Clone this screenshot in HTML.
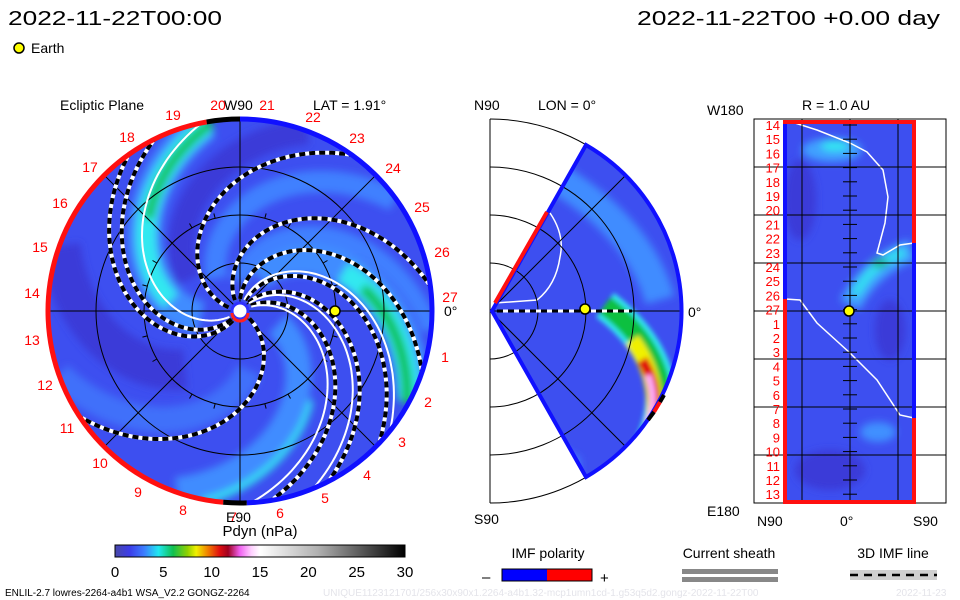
<!DOCTYPE html>
<html><head><meta charset="utf-8"><style>
html,body{margin:0;padding:0;background:#fff;}
svg{display:block;font-family:"Liberation Sans",sans-serif;}
</style></head><body>
<svg id="s" width="960" height="600" viewBox="0 0 960 600" xmlns="http://www.w3.org/2000/svg">
<defs>
<filter id="bl" x="-20%" y="-20%" width="140%" height="140%"><feGaussianBlur stdDeviation="4"/></filter>
<filter id="bl2" x="-20%" y="-20%" width="140%" height="140%"><feGaussianBlur stdDeviation="2.5"/></filter>
<clipPath id="diskClip"><circle cx="240" cy="311" r="192"/></clipPath>
<clipPath id="wedgeClip"><path d="M492,311 L586,145 A192,192 0 0 1 586,477 Z"/></clipPath>
<clipPath id="rectClip"><rect x="785" y="122" width="129" height="380"/></clipPath>
<linearGradient id="cmap" x1="0" x2="1" y1="0" y2="0">
<stop offset="0" stop-color="#4848a8"/><stop offset="0.05" stop-color="#3c3ce8"/><stop offset="0.1" stop-color="#3c7cff"/>
<stop offset="0.15" stop-color="#20e8f0"/><stop offset="0.2" stop-color="#10c050"/><stop offset="0.25" stop-color="#90d000"/>
<stop offset="0.28" stop-color="#f0f000"/><stop offset="0.32" stop-color="#f08000"/><stop offset="0.36" stop-color="#e01010"/>
<stop offset="0.39" stop-color="#a00020"/><stop offset="0.43" stop-color="#f060f0"/><stop offset="0.47" stop-color="#ffd0ff"/>
<stop offset="0.5" stop-color="#ffffff"/><stop offset="0.7" stop-color="#b0b0b0"/><stop offset="1" stop-color="#000000"/>
</linearGradient>
</defs>

<text x="8" y="25" font-size="20" textLength="214" lengthAdjust="spacingAndGlyphs">2022-11-22T00:00</text>
<text x="637" y="25" font-size="20" textLength="303" lengthAdjust="spacingAndGlyphs">2022-11-22T00 +0.00 day</text>
<circle cx="19" cy="48" r="5" fill="#ffff00" stroke="#000" stroke-width="1.5"/>
<text x="31" y="53" font-size="14">Earth</text>

<g>
<text x="60" y="110" font-size="14">Ecliptic Plane</text>
<text x="224" y="110" font-size="14">W90</text>
<text x="313" y="110" font-size="14">LAT = 1.91°</text>
<g clip-path="url(#diskClip)" id="diskField">
<circle cx="240" cy="311" r="192" fill="#3d4ff0"/>
<g id="bands"></g>
</g>
<g id="diskGrid"></g>
<g id="spirals"></g>
<g id="rim"></g>
<circle cx="240" cy="311" r="8" fill="#fff" stroke="#3030ff" stroke-width="3"/>
<path d="M232,313 A8,8 0 0 0 248,313" fill="none" stroke="#ff2020" stroke-width="3"/>
<circle cx="335" cy="311" r="5" fill="#ffff00" stroke="#000" stroke-width="1.5"/>
<g id="lonLabels"></g>
<text x="226" y="522" font-size="14">E90</text>
<text x="444" y="316" font-size="14">0°</text>
</g>

<g>
<text x="474" y="110" font-size="14">N90</text>
<text x="538" y="110" font-size="14">LON = 0°</text>
<g clip-path="url(#wedgeClip)">
<rect x="480" y="110" width="220" height="400" fill="#3d4ff0"/>
<g id="wedgeBands"></g>
</g>
<g id="midGrid"></g>
<text x="688" y="317" font-size="14">0°</text>
<text x="474" y="524" font-size="14">S90</text>
</g>

<g>
<text x="707" y="115" font-size="14">W180</text>
<text x="802" y="110" font-size="14">R = 1.0 AU</text>
<g clip-path="url(#rectClip)">
<rect x="785" y="122" width="129" height="380" fill="#3d4ff0"/>
<g filter="url(#bl)">
<ellipse cx="832" cy="150" rx="30" ry="12" fill="#3fa0ff"/>
<ellipse cx="835" cy="146" rx="14" ry="5" fill="#30e8f0"/>
<path d="M850,305 Q870,265 912,250" stroke="#3fa0ff" stroke-width="22" fill="none"/>
<path d="M855,295 Q872,262 905,252" stroke="#30e0f0" stroke-width="9" fill="none"/>
<ellipse cx="880" cy="263" rx="8" ry="4" fill="#10b060"/>
<ellipse cx="878" cy="432" rx="18" ry="10" fill="#3f90ff"/>
<ellipse cx="800" cy="200" rx="16" ry="40" fill="#3a3ad8"/>
<ellipse cx="830" cy="470" rx="35" ry="20" fill="#3a3ad8"/>
<ellipse cx="890" cy="330" rx="15" ry="30" fill="#3a3ad8"/>
</g>
<path d="M795,123 L817,130 L850,143 L867,152 L883,170 L888,197 L885,223 L877,253 L883,255 L900,245 L914,243" stroke="#fff" stroke-width="1.5" fill="none"/>
<path d="M785,299 L800,300 L817,323 L850,353 L877,380 L900,415 L914,418" stroke="#fff" stroke-width="1.5" fill="none"/>
</g>
<g id="rightGrid"></g>
<circle cx="849" cy="311" r="5" fill="#ffff00" stroke="#000" stroke-width="1.5"/>
<g id="rightLabels"></g>
<text x="707" y="516" font-size="14">E180</text>
<text x="757" y="526" font-size="14">N90</text>
<text x="840" y="526" font-size="14">0°</text>
<text x="913" y="526" font-size="14">S90</text>
</g>

<g>
<text x="260" y="536" font-size="15" text-anchor="middle">Pdyn (nPa)</text>
<rect x="115" y="545" width="290" height="12" fill="url(#cmap)" stroke="#000" stroke-width="1"/>
<g id="cbTicks"></g>
</g>

<g>
<text x="548" y="558" font-size="14" text-anchor="middle">IMF polarity</text>
<text x="482" y="582" font-size="15">–</text>
<rect x="502" y="569" width="45" height="12" fill="#0000ff"/>
<rect x="547" y="569" width="45" height="12" fill="#ff0000"/>
<rect x="502" y="569" width="90" height="12" fill="none" stroke="#000" stroke-width="1"/>
<text x="600" y="583" font-size="15">+</text>
</g>
<g>
<text x="729" y="558" font-size="14" text-anchor="middle">Current sheath</text>
<rect x="682" y="569" width="96" height="5" fill="#888"/>
<rect x="682" y="577" width="96" height="5" fill="#888"/>
</g>
<g>
<text x="893" y="558" font-size="14" text-anchor="middle">3D IMF line</text>
<rect x="850" y="570" width="87" height="10" fill="#d0d0d0"/>
<line x1="850" y1="575" x2="937" y2="575" stroke="#000" stroke-width="2.5" stroke-dasharray="8,6"/>
</g>
<text x="5" y="596" font-size="10">ENLIL-2.7 lowres-2264-a4b1 WSA_V2.2 GONGZ-2264</text>
<text x="323" y="596" font-size="10" fill="#e4e4ea">UNIQUE1123121701/256x30x90x1.2264-a4b1.32-mcp1umn1cd-1.g53q5d2.gongz-2022-11-22T00</text>
<text x="896" y="596" font-size="10" fill="#e4e4ea">2022-11-23</text>
</svg>
<script>
const NS='http://www.w3.org/2000/svg';
const dashedSpiralEnds=[55,8,-18,-43,-62,-80,-146,126,117];
const whiteSpiralEnds=[102,-38,-67,-86];
const carringtonLabels=['20','21','22','23','24','25','26','27','1','2','3','4','5','6','7','8','9','10','11','12','13','14','15','16','17','18','19'];
const carringtonX=[218,267,313,357,393,422,442,450,445,428,402,367,325,280,233,183,138,100,67,45,32,32,40,60,90,127,173];
const carringtonY=[105,105,117,138,168,207,252,297,357,402,442,475,498,513,517,510,492,463,428,385,340,293,247,203,167,137,115];
const rightRowLabels=['14','15','16','17','18','19','20','21','22','23','24','25','26','27','1','2','3','4','5','6','7','8','9','10','11','12','13'];
const cbTickValues=[0,5,10,15,20,25,30];

const CX=240,CY=311,R=191,K=0.6;
function el(tag,attrs,parent){const e=document.createElementNS(NS,tag);for(const k in attrs)e.setAttribute(k,attrs[k]);parent.appendChild(e);return e;}
function spiral(end,r0,r1){let d='';for(let r=r0;r<=r1;r+=3){const t=(end+K*(R-r))*Math.PI/180;d+=(d?'L':'M')+(CX+r*Math.cos(t)).toFixed(1)+','+(CY-r*Math.sin(t)).toFixed(1);}return d;}

const bands=document.getElementById('bands');
const bandSpecs=[[-25,40,192,'#3f8cff',34],[-28,110,192,'#30e8f0',22],[-29,125,192,'#10c040',10],
[100,40,192,'#3f8cff',34],[99,70,192,'#30e8f0',20],[98,130,192,'#10c040',9],
[-102,110,192,'#30e8f0',16],[-110,40,192,'#3f8cff',26],[35,40,192,'#3f80ff',22],[-5,30,192,'#3f80ff',18],
[160,80,192,'#3a3ad8',40],[-160,60,192,'#3f70fa',26],[70,60,192,'#3a3ad8',26]];
const bg=el('g',{filter:'url(#bl)'},bands);
bandSpecs.forEach(b=>{const p=el('path',{d:spiral(b[0],b[1],b[2]),stroke:b[3],'stroke-width':b[4],fill:'none'},bg);

});

const g=document.getElementById('diskGrid');
[48,96,144].forEach(r=>el('circle',{cx:CX,cy:CY,r:r,fill:'none',stroke:'#000','stroke-width':1},g));
[0,45,90,135].forEach(a=>{const t=a*Math.PI/180;el('line',{x1:CX-R*Math.cos(t),y1:CY+R*Math.sin(t),x2:CX+R*Math.cos(t),y2:CY-R*Math.sin(t),stroke:'#000','stroke-width':1},g);});
for(let a=0;a<360;a+=15){const t=a*Math.PI/180;el('line',{x1:CX+96*Math.cos(t),y1:CY-96*Math.sin(t),x2:CX+101*Math.cos(t),y2:CY-101*Math.sin(t),stroke:'#000','stroke-width':1},g);}

const sp=document.getElementById('spirals');
const sc=el('g',{'clip-path':'url(#diskClip)'},sp);
dashedSpiralEnds.forEach(e=>{const d=spiral(e,12,192);
el('path',{d:d,stroke:'#fff','stroke-width':4,fill:'none'},sc);
const p=el('path',{d:d,stroke:'#000','stroke-width':4,fill:'none','stroke-dasharray':'6,4'},sc);

});
whiteSpiralEnds.forEach(e=>{const p=el('path',{d:spiral(e,12,192),stroke:'#fff','stroke-width':2,fill:'none'},sc);

});

const rim=document.getElementById('rim');
function arc(a0,a1,r){const p0=[CX+r*Math.cos(a0*Math.PI/180),CY-r*Math.sin(a0*Math.PI/180)],p1=[CX+r*Math.cos(a1*Math.PI/180),CY-r*Math.sin(a1*Math.PI/180)];const large=Math.abs(a1-a0)>180?1:0;return `M${p0[0]},${p0[1]} A${r},${r} 0 ${large} 0 ${p1[0]},${p1[1]}`;}
el('path',{d:arc(100,265,192),stroke:'#ff1010','stroke-width':5,fill:'none'},rim);
el('path',{d:arc(-88,90,192),stroke:'#1010ff','stroke-width':5,fill:'none'},rim);
el('path',{d:arc(90,100,192),stroke:'#000','stroke-width':5,fill:'none'},rim);
el('path',{d:arc(265,272,192),stroke:'#000','stroke-width':5,fill:'none'},rim);

const ll=document.getElementById('lonLabels');
carringtonLabels.forEach((t,i)=>{const x=el('text',{x:carringtonX[i],y:carringtonY[i]+5,'font-size':14,fill:'#ff0000','text-anchor':'middle'},ll);x.textContent=t;

});

const wb=document.getElementById('wedgeBands');
const wg=el('g',{filter:'url(#bl2)'},wb);
const cmeD='M605,305 Q645,335 658,375 Q668,415 640,462';
el('path',{d:'M560,180 Q640,230 660,300',stroke:'#3f8cff','stroke-width':30,fill:'none',filter:'url(#bl)'},wb);
el('path',{d:'M520,420 Q560,470 580,470',stroke:'#3f80ff','stroke-width':26,fill:'none',filter:'url(#bl)'},wb);
el('path',{d:cmeD,stroke:'#30e8f0','stroke-width':30,fill:'none'},wg);
el('path',{d:cmeD,stroke:'#10c040','stroke-width':20,fill:'none'},wg);
el('path',{d:'M632,340 Q662,380 652,432',stroke:'#f0f000','stroke-width':16,fill:'none'},wg);
el('path',{d:'M642,360 Q662,392 650,427',stroke:'#e01010','stroke-width':11,fill:'none'},wg);
el('path',{d:'M648,375 Q658,402 647,422',stroke:'#ffb0ff','stroke-width':6,fill:'none'},wg);
el('path',{d:'M495,303 L537,300 Q556,285 560,257 Q565,235 550,213',stroke:'#fff','stroke-width':1.5,fill:'none'},wb);
const mg=document.getElementById('midGrid');
const MX=490,MY=311;
[48,96,144,192].forEach(r=>el('path',{d:`M${MX},${MY-r} A${r},${r} 0 0 1 ${MX},${MY+r}`,fill:'none',stroke:'#000','stroke-width':1},mg));
el('line',{x1:MX,y1:119,x2:MX,y2:503,stroke:'#000'},mg);
el('line',{x1:MX,y1:MY,x2:MX+192,y2:MY,stroke:'#000'},mg);
el('line',{x1:MX,y1:MY,x2:MX+136,y2:MY-136,stroke:'#000'},mg);
el('line',{x1:MX,y1:MY,x2:MX+136,y2:MY+136,stroke:'#000'},mg);
el('path',{d:'M492,311 L586,145 A192,192 0 0 1 586,477 Z',fill:'none',stroke:'#1010ff','stroke-width':4},mg);
el('line',{x1:495,y1:303,x2:547,y2:212,stroke:'#ff1010','stroke-width':4},mg);
el('line',{x1:654,y1:412,x2:660,y2:402,stroke:'#ff1010','stroke-width':4},mg);
el('line',{x1:648,y1:420,x2:654,y2:412,stroke:'#000','stroke-width':4},mg);
el('line',{x1:660,y1:402,x2:664,y2:395,stroke:'#000','stroke-width':4},mg);
el('line',{x1:497,y1:311,x2:632,y2:311,stroke:'#fff','stroke-width':3},mg);
el('line',{x1:497,y1:311,x2:632,y2:311,stroke:'#000','stroke-width':3,'stroke-dasharray':'6,5'},mg);
const em=el('circle',{cx:585,cy:309,r:5,fill:'#ffff00',stroke:'#000','stroke-width':1.5},mg);



const rg=document.getElementById('rightGrid');
el('rect',{x:754,y:119,width:192,height:384,fill:'none',stroke:'#000','stroke-width':1},rg);
[167,215,263,311,359,407,455].forEach(y=>el('line',{x1:754,y1:y,x2:946,y2:y,stroke:'#000'},rg));
[802,850,898].forEach(x=>el('line',{x1:x,y1:119,x2:x,y2:503,stroke:'#000'},rg));
for(let y=125;y<503;y+=14.2)el('line',{x1:843,y1:y,x2:857,y2:y,stroke:'#000'},rg);
el('line',{x1:785,y1:122,x2:785,y2:299,stroke:'#1010ff','stroke-width':4},rg);
el('line',{x1:785,y1:299,x2:785,y2:502,stroke:'#ff1010','stroke-width':4},rg);
el('line',{x1:914,y1:122,x2:914,y2:243,stroke:'#ff1010','stroke-width':4},rg);
el('line',{x1:914,y1:243,x2:914,y2:418,stroke:'#1010ff','stroke-width':4},rg);
el('line',{x1:914,y1:418,x2:914,y2:502,stroke:'#ff1010','stroke-width':4},rg);
el('line',{x1:783,y1:122,x2:916,y2:122,stroke:'#ff1010','stroke-width':4},rg);
el('line',{x1:783,y1:502,x2:916,y2:502,stroke:'#ff1010','stroke-width':4},rg);
const rl=document.getElementById('rightLabels');
rightRowLabels.forEach((t,i)=>{const x=el('text',{x:780,y:130+i*14.2,'font-size':13,fill:'#ff0000','text-anchor':'end'},rl);x.textContent=t;

});

const cb=document.getElementById('cbTicks');
cbTickValues.forEach(v=>{const x=115+v/30*290;const t=el('text',{x:x,y:577,'font-size':15,'text-anchor':'middle'},cb);t.textContent=v;

});
</script>
</body></html>
